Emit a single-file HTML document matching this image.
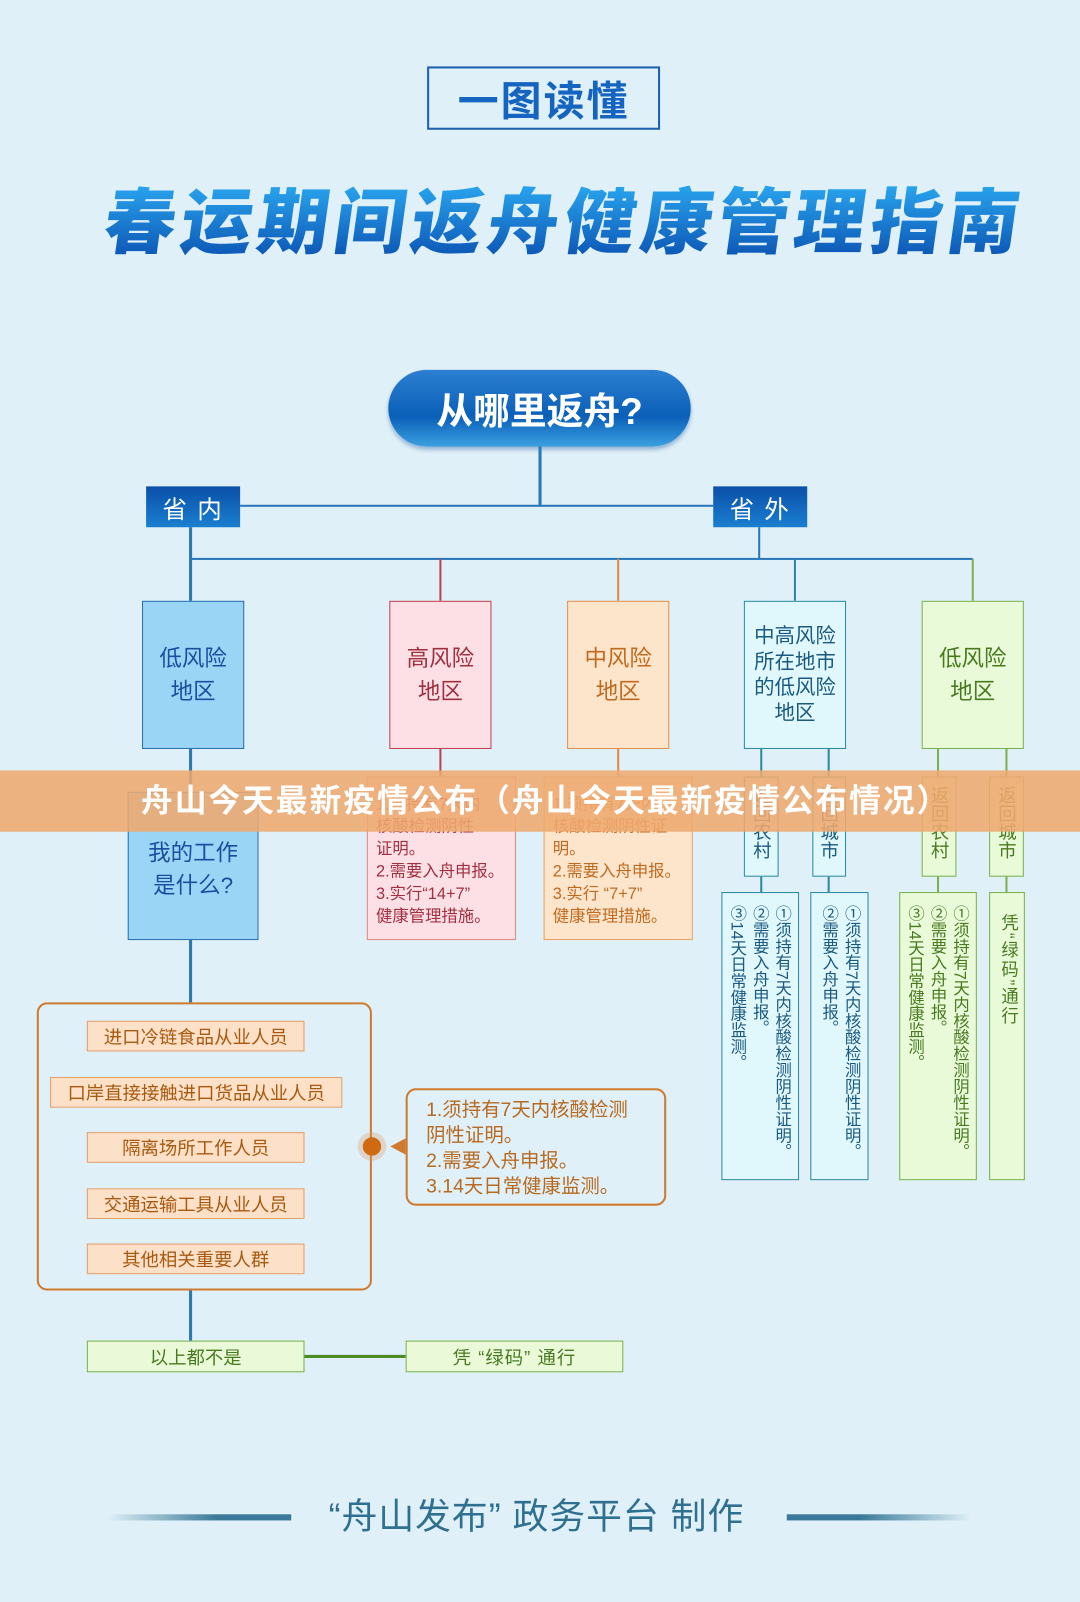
<!DOCTYPE html>
<html><head><meta charset="utf-8"><style>
html,body{margin:0;padding:0;}
body{width:1080px;height:1602px;overflow:hidden;background:#dff0f8;font-family:"Liberation Sans","Noto Sans CJK SC",sans-serif;}
#w{position:absolute;left:0;top:0;width:1057px;height:1568px;transform:scale(1.0218);transform-origin:0 0;}
.a{position:absolute;box-sizing:border-box;}
.l{position:absolute;}
.c{display:flex;align-items:center;justify-content:center;text-align:center;}
.v{writing-mode:vertical-rl;font-size:16px;line-height:22px;padding:12px 6px;}
</style></head><body><div id="w">
<div class="a c" style="left:418px;top:65px;width:228px;height:62px;border:2px solid #1f5fb0;font-size:40px;font-weight:bold;color:#1565c0;letter-spacing:2px;">一图读懂</div>
<div class="a" style="left:100px;top:178px;width:905px;height:80px;font-size:70px;font-weight:900;letter-spacing:5px;color:#1369c8;text-align:center;line-height:80px;transform:skewX(-8deg);background:linear-gradient(#2aa8f0,#0a4fb0);-webkit-background-clip:text;background-clip:text;-webkit-text-fill-color:transparent;">春运期间返舟健康管理指南</div>
<div class="a c" style="left:380px;top:362px;width:296px;height:75px;border-radius:38px;background:linear-gradient(#2c7fd0,#0a5fb8 60%,#3aa0e0);box-shadow:0 3px 4px rgba(0,60,140,.35);color:#fff;font-size:36px;font-weight:bold;">从哪里返舟?</div>
<div class="l" style="left:527px;top:437px;width:3px;height:58px;background:#2a78b8"></div>
<div class="l" style="left:235px;top:494px;width:463px;height:2px;background:#2a78b8"></div>
<div class="a c" style="left:143px;top:476px;width:92px;height:40px;background:linear-gradient(#0a4fa8,#1a7fd0);color:#fff;font-size:24px;letter-spacing:10px;padding-left:8px;">省内</div>
<div class="a c" style="left:698px;top:476px;width:92px;height:40px;background:linear-gradient(#0a4fa8,#1a7fd0);color:#fff;font-size:24px;letter-spacing:10px;padding-left:8px;">省外</div>
<div class="l" style="left:185px;top:516px;width:3px;height:72px;background:#2a78b8"></div>
<div class="l" style="left:742px;top:516px;width:2px;height:31px;background:#2a78b8"></div>
<div class="l" style="left:186px;top:546px;width:766px;height:2px;background:#2a78b8"></div>
<div class="l" style="left:430px;top:547px;width:2px;height:41px;background:#c04050"></div>
<div class="l" style="left:604px;top:547px;width:2px;height:41px;background:#e08a40"></div>
<div class="l" style="left:777px;top:547px;width:2px;height:41px;background:#2a8aa0"></div>
<div class="l" style="left:951px;top:547px;width:2px;height:41px;background:#7ab050"></div>
<div class="a c" style="left:139px;top:588px;width:100px;height:145px;background:#9ad5f5;border:1.5px solid #2a70b0;color:#1a4fa0;font-size:22px;line-height:32px;">低风险<br>地区</div>
<div class="a c" style="left:381px;top:588px;width:100px;height:145px;background:#fde0e6;border:1.5px solid #c04050;color:#a03040;font-size:22px;line-height:32px;">高风险<br>地区</div>
<div class="a c" style="left:555px;top:588px;width:100px;height:145px;background:#fde5cc;border:1.5px solid #e09050;color:#c06a20;font-size:22px;line-height:32px;">中风险<br>地区</div>
<div class="a c" style="left:728px;top:588px;width:100px;height:145px;background:#e0f7fc;border:1.5px solid #2a8aa0;color:#1a5a80;font-size:20px;line-height:25px;">中高风险<br>所在地市<br>的低风险<br>地区</div>
<div class="a c" style="left:902px;top:588px;width:100px;height:145px;background:#e8fad8;border:1.5px solid #7ab050;color:#4a7a20;font-size:22px;line-height:32px;">低风险<br>地区</div>
<div class="l" style="left:185px;top:733px;width:3px;height:42px;background:#2a78b8"></div>
<div class="l" style="left:430px;top:733px;width:2px;height:27px;background:#c04050"></div>
<div class="l" style="left:604px;top:733px;width:2px;height:27px;background:#e08a40"></div>
<div class="l" style="left:744px;top:733px;width:2px;height:140px;background:#2a8aa0"></div>
<div class="l" style="left:810px;top:733px;width:2px;height:140px;background:#2a8aa0"></div>
<div class="l" style="left:917px;top:733px;width:2px;height:140px;background:#7ab050"></div>
<div class="l" style="left:984px;top:733px;width:2px;height:140px;background:#7ab050"></div>
<div class="a c" style="left:125px;top:775px;width:128px;height:145px;background:#9ad5f5;border:1.5px solid #2a70b0;color:#1a4fa0;font-size:22px;line-height:32px;padding-top:6px;">我的工作<br>是什么?</div>
<div class="a" style="left:359px;top:760px;width:146px;height:160px;background:#fde0e6;border:1.5px solid #e08a80;color:#a03040;font-size:16px;line-height:22px;padding:16px 8px;">1.须持有7天内<br>核酸检测阴性<br>证明。<br>2.需要入舟申报。<br>3.实行“14+7”<br>健康管理措施。</div>
<div class="a" style="left:532px;top:760px;width:146px;height:160px;background:#fde5cc;border:1.5px solid #e8a060;color:#c06a20;font-size:16px;line-height:22px;padding:16px 8px;">1.须持有7天内<br>核酸检测阴性证<br>明。<br>2.需要入舟申报。<br>3.实行 “7+7”<br>健康管理措施。</div>
<div class="a" style="left:728px;top:760px;width:34px;height:98px;background:#e0f7fc;border:1.5px solid #2a8aa0;color:#1a5a80;font-size:18px;line-height:22px;writing-mode:vertical-rl;padding:8px 5px;">返回农村</div>
<div class="a" style="left:795px;top:760px;width:33px;height:98px;background:#e0f7fc;border:1.5px solid #2a8aa0;color:#1a5a80;font-size:18px;line-height:22px;writing-mode:vertical-rl;padding:8px 5px;">返回城市</div>
<div class="a" style="left:902px;top:760px;width:34px;height:98px;background:#e8fad8;border:1.5px solid #7ab050;color:#4a7a20;font-size:18px;line-height:22px;writing-mode:vertical-rl;padding:8px 5px;">返回农村</div>
<div class="a" style="left:968px;top:760px;width:34px;height:98px;background:#e8fad8;border:1.5px solid #7ab050;color:#4a7a20;font-size:18px;line-height:22px;writing-mode:vertical-rl;padding:8px 5px;">返回城市</div>
<div class="a v" style="left:706px;top:873px;width:76px;height:282px;background:#e0f7fc;border:1.5px solid #2a8aa0;color:#1a5a80;">①须持有7天内核酸检测阴性证明。<br>②需要入舟申报。<br>③14天日常健康监测。</div>
<div class="a v" style="left:793px;top:873px;width:57px;height:282px;background:#e0f7fc;border:1.5px solid #2a8aa0;color:#1a5a80;">①须持有7天内核酸检测阴性证明。<br>②需要入舟申报。</div>
<div class="a v" style="left:880px;top:873px;width:76px;height:282px;background:#e8fad8;border:1.5px solid #7ab050;color:#4a7a20;">①须持有7天内核酸检测阴性证明。<br>②需要入舟申报。<br>③14天日常健康监测。</div>
<div class="a v" style="left:968px;top:873px;width:35px;height:282px;background:#e8fad8;border:1.5px solid #7ab050;color:#4a7a20;padding:20px 5px;font-size:17px;letter-spacing:2px;">凭“绿码”通行</div>
<div class="a" style="left:0;top:754px;width:1057px;height:60px;background:rgba(238,168,110,0.88);color:#fff;font-size:31px;letter-spacing:2px;font-weight:bold;line-height:60px;padding-left:138px;white-space:nowrap;">舟山今天最新疫情公布（舟山今天最新疫情公布情况）</div>
<div class="l" style="left:185px;top:920px;width:3px;height:61px;background:#2a78b8"></div>
<div class="a" style="left:36px;top:981px;width:328px;height:282px;border:2px solid #d07a30;border-radius:10px;"></div>
<div class="a c" style="left:85px;top:999px;width:213px;height:30px;background:#fde0c8;border:1px solid #e0a070;color:#a85a10;font-size:18px;">进口冷链食品从业人员</div>
<div class="a c" style="left:49px;top:1054px;width:286px;height:30px;background:#fde0c8;border:1px solid #e0a070;color:#a85a10;font-size:18px;">口岸直接接触进口货品从业人员</div>
<div class="a c" style="left:85px;top:1108px;width:213px;height:30px;background:#fde0c8;border:1px solid #e0a070;color:#a85a10;font-size:18px;">隔离场所工作人员</div>
<div class="a c" style="left:85px;top:1163px;width:213px;height:30px;background:#fde0c8;border:1px solid #e0a070;color:#a85a10;font-size:18px;">交通运输工具从业人员</div>
<div class="a c" style="left:85px;top:1217px;width:213px;height:30px;background:#fde0c8;border:1px solid #e0a070;color:#a85a10;font-size:18px;">其他相关重要人群</div>
<div class="a" style="left:350px;top:1108px;width:28px;height:28px;border-radius:50%;background:rgba(220,150,100,.3);"></div>
<div class="a" style="left:355px;top:1113px;width:18px;height:18px;border-radius:50%;background:#d06a10;"></div>
<div class="a" style="left:382px;top:1114px;width:0;height:0;border-top:8px solid transparent;border-bottom:8px solid transparent;border-right:15px solid #d07a30;"></div>
<div class="a" style="left:397px;top:1065px;width:255px;height:115px;border:2px solid #d07a30;border-radius:10px;background:#dff0f8;color:#b86a20;font-size:19px;line-height:25px;padding:7px 0 0 18px;">1.须持有7天内核酸检测<br>阴性证明。<br>2.需要入舟申报。<br>3.14天日常健康监测。</div>
<div class="l" style="left:185px;top:1263px;width:3px;height:49px;background:#2a78b8"></div>
<div class="a c" style="left:85px;top:1312px;width:213px;height:31px;background:#eafad8;border:1px solid #7ab050;color:#4a7a20;font-size:18px;">以上都不是</div>
<div class="l" style="left:298px;top:1326px;width:99px;height:3px;background:#4a8a20"></div>
<div class="a c" style="left:397px;top:1312px;width:213px;height:31px;background:#eafad8;border:1px solid #7ab050;color:#4a7a20;font-size:18px;letter-spacing:1px;">凭 “绿码” 通行</div>
<div class="l" style="left:105px;top:1482px;width:180px;height:6px;background:linear-gradient(90deg,rgba(47,111,144,0),#3a7a98 60%)"></div>
<div class="l" style="left:770px;top:1482px;width:180px;height:6px;background:linear-gradient(90deg,#3a7a98 40%,rgba(47,111,144,0))"></div>
<div class="a" style="left:290px;top:1462px;width:470px;height:46px;text-align:center;font-size:35px;letter-spacing:1px;line-height:46px;color:#2f6f90;white-space:nowrap;">“舟山发布” 政务平台 制作</div>
</div></body></html>
